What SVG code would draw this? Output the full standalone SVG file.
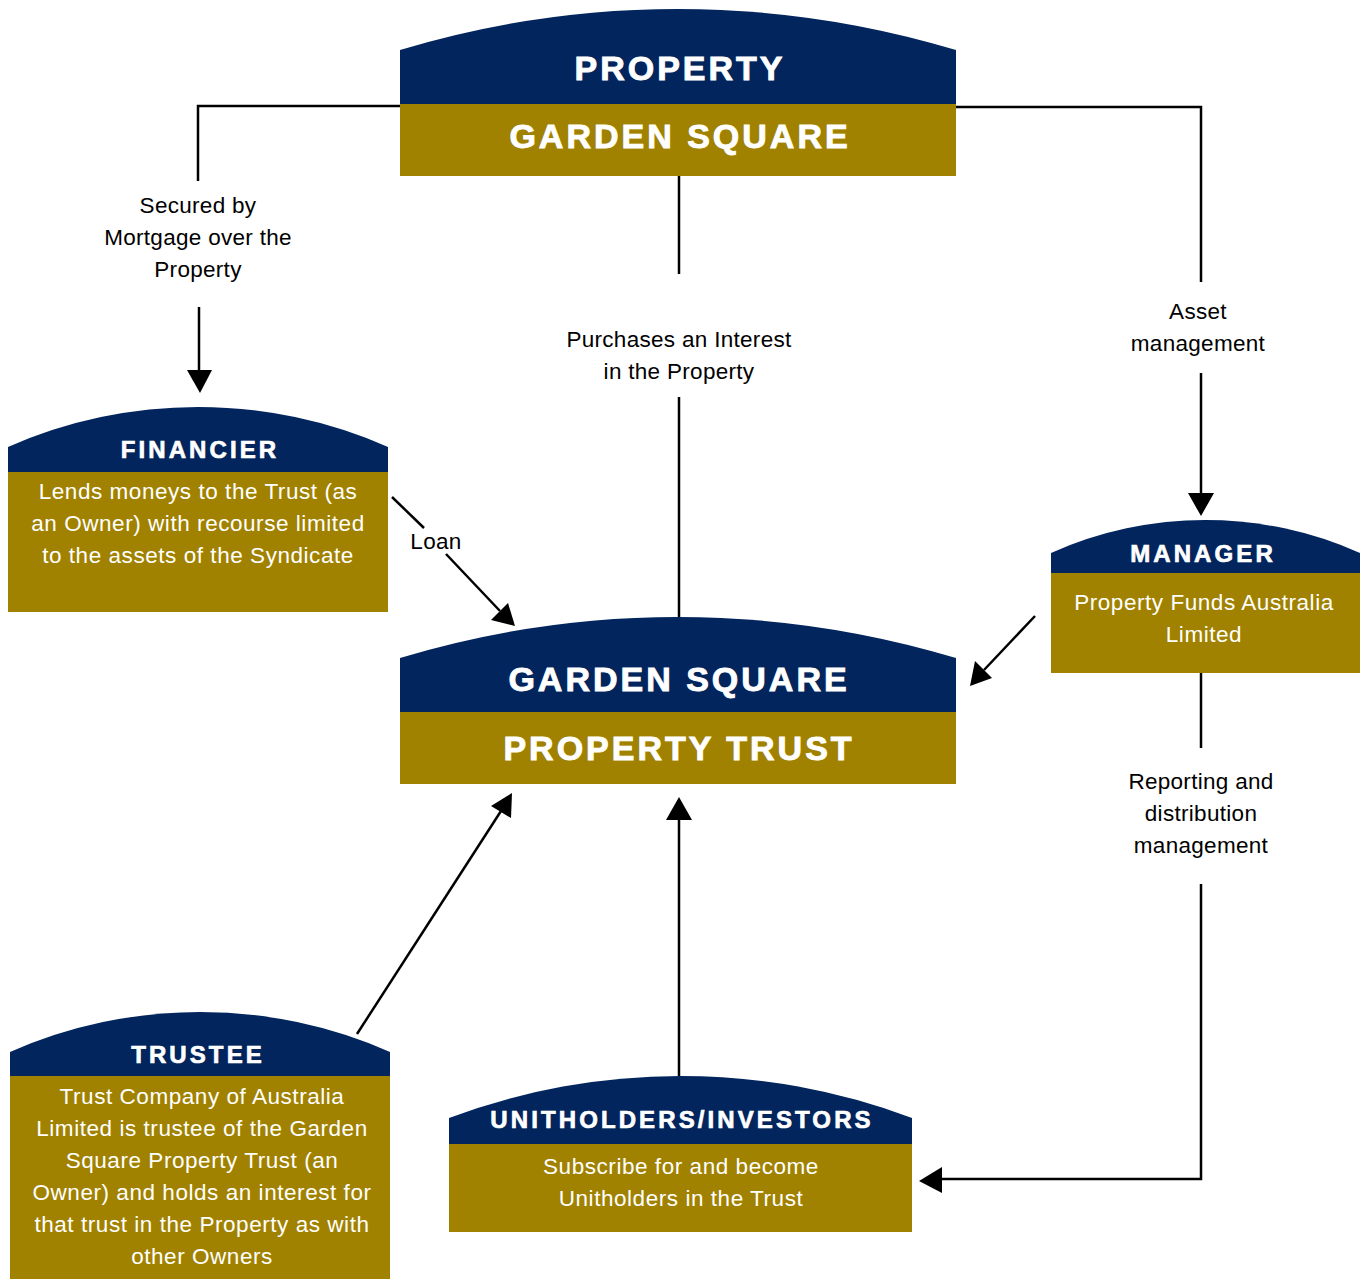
<svg xmlns="http://www.w3.org/2000/svg" width="1362" height="1279" viewBox="0 0 1362 1279">
  <style>
    .navy { fill: #01255c; }
    .gold { fill: #a18200; }
    .big { font-family: "Liberation Sans", Arial, sans-serif; font-weight: bold; font-size: 34px; fill: #ffffff; stroke: #ffffff; stroke-width: 0.9px; text-anchor: middle; letter-spacing: 3px; }
    .title { font-family: "Liberation Sans", Arial, sans-serif; font-weight: bold; font-size: 24px; fill: #ffffff; stroke: #ffffff; stroke-width: 0.7px; text-anchor: middle; letter-spacing: 3.1px; }
    .body { font-family: "Liberation Sans", Arial, sans-serif; font-size: 22.5px; fill: #ffffff; text-anchor: middle; letter-spacing: 0.55px; }
    .lbl { font-family: "Liberation Sans", Arial, sans-serif; font-size: 22.5px; fill: #000000; text-anchor: middle; letter-spacing: 0.3px; }
    .wire { fill: none; stroke: #000000; stroke-width: 2.5; }
    .head { fill: #000000; }
  </style>
  <rect width="1362" height="1279" fill="#ffffff"/>

  <!-- connectors -->
  <g id="connectors">
    <!-- property to financier -->
    <polyline class="wire" points="400,106 198,106 198,181"/>
    <line class="wire" x1="199" y1="307" x2="199" y2="372"/>
    <path class="head" d="M187,370 L212,370 L200,393 Z"/>
    <text class="lbl" x="198" y="213">Secured by</text>
    <text class="lbl" x="198" y="245">Mortgage over the</text>
    <text class="lbl" x="198" y="277">Property</text>

    <!-- property to manager -->
    <polyline class="wire" points="956,107 1201,107 1201,282"/>
    <line class="wire" x1="1201" y1="373" x2="1201" y2="495"/>
    <path class="head" d="M1188,493 L1214,493 L1201,516 Z"/>
    <text class="lbl" x="1198" y="319">Asset</text>
    <text class="lbl" x="1198" y="351">management</text>

    <!-- property to trust -->
    <line class="wire" x1="679" y1="176" x2="679" y2="274"/>
    <line class="wire" x1="679" y1="397" x2="679" y2="618"/>
    <text class="lbl" x="679" y="347">Purchases an Interest</text>
    <text class="lbl" x="679" y="379">in the Property</text>

    <!-- financier loan to trust -->
    <line class="wire" x1="392" y1="497" x2="424" y2="528"/>
    <line class="wire" x1="446" y1="554" x2="500" y2="611"/>
    <path class="head" d="M491,620 L508,603 L515,626 Z"/>
    <text class="lbl" x="436" y="549">Loan</text>

    <!-- manager to trust -->
    <line class="wire" x1="1035" y1="616" x2="984" y2="670"/>
    <path class="head" d="M975,661 L992,678 L970,686 Z"/>

    <!-- manager to unitholders -->
    <line class="wire" x1="1201" y1="673" x2="1201" y2="748"/>
    <polyline class="wire" points="1201,884 1201,1179 940,1179"/>
    <path class="head" d="M942,1167 L942,1193 L919,1181 Z"/>
    <text class="lbl" x="1201" y="789">Reporting and</text>
    <text class="lbl" x="1201" y="821">distribution</text>
    <text class="lbl" x="1201" y="853">management</text>

    <!-- trustee to trust -->
    <line class="wire" x1="357" y1="1034" x2="501" y2="811"/>
    <path class="head" d="M491,806 L511,818 L512,793 Z"/>

    <!-- unitholders to trust -->
    <line class="wire" x1="679" y1="1076" x2="679" y2="818"/>
    <path class="head" d="M666,820 L692,820 L679,797 Z"/>
  </g>

  <!-- Property: Garden Square -->
  <g id="property">
    <path class="navy" d="M400,50 A963,963 0 0 1 956,50 L956,105 L400,105 Z"/>
    <rect class="gold" x="400" y="104" width="556" height="72"/>
    <text class="big" x="680" y="80">PROPERTY</text>
    <text class="big" x="680" y="148">GARDEN SQUARE</text>
  </g>

  <!-- Garden Square Property Trust -->
  <g id="trust">
    <path class="navy" d="M400,658 A963,963 0 0 1 956,658 L956,713 L400,713 Z"/>
    <rect class="gold" x="400" y="712" width="556" height="72"/>
    <text class="big" x="679" y="691">GARDEN SQUARE</text>
    <text class="big" x="679" y="760">PROPERTY TRUST</text>
  </g>

  <!-- Financier -->
  <g id="financier">
    <path class="navy" d="M8,447 A471,471 0 0 1 388,447 L388,473 L8,473 Z"/>
    <rect class="gold" x="8" y="472" width="380" height="140"/>
    <text class="title" x="200" y="458">FINANCIER</text>
    <text class="body" x="198" y="499">Lends moneys to the Trust (as</text>
    <text class="body" x="198" y="531">an Owner) with recourse limited</text>
    <text class="body" x="198" y="563">to the assets of the Syndicate</text>
  </g>

  <!-- Manager -->
  <g id="manager">
    <path class="navy" d="M1051,553 A378,378 0 0 1 1360,553 L1360,574 L1051,574 Z"/>
    <rect class="gold" x="1051" y="573" width="309" height="100"/>
    <text class="title" x="1203" y="562">MANAGER</text>
    <text class="body" x="1204" y="610">Property Funds Australia</text>
    <text class="body" x="1204" y="642">Limited</text>
  </g>

  <!-- Trustee -->
  <g id="trustee">
    <path class="navy" d="M10,1052 A471,471 0 0 1 390,1052 L390,1077 L10,1077 Z"/>
    <rect class="gold" x="10" y="1076" width="380" height="203"/>
    <text class="title" x="198" y="1063">TRUSTEE</text>
    <text class="body" x="202" y="1104">Trust Company of Australia</text>
    <text class="body" x="202" y="1136">Limited is trustee of the Garden</text>
    <text class="body" x="202" y="1168">Square Property Trust (an</text>
    <text class="body" x="202" y="1200">Owner) and holds an interest for</text>
    <text class="body" x="202" y="1232">that trust in the Property as with</text>
    <text class="body" x="202" y="1264">other Owners</text>
  </g>

  <!-- Unitholders / Investors -->
  <g id="unitholders">
    <path class="navy" d="M449,1118 A659,659 0 0 1 912,1118 L912,1145 L449,1145 Z"/>
    <rect class="gold" x="449" y="1144" width="463" height="88"/>
    <text class="title" x="682" y="1128">UNITHOLDERS/INVESTORS</text>
    <text class="body" x="681" y="1174">Subscribe for and become</text>
    <text class="body" x="681" y="1206">Unitholders in the Trust</text>
  </g>
</svg>
